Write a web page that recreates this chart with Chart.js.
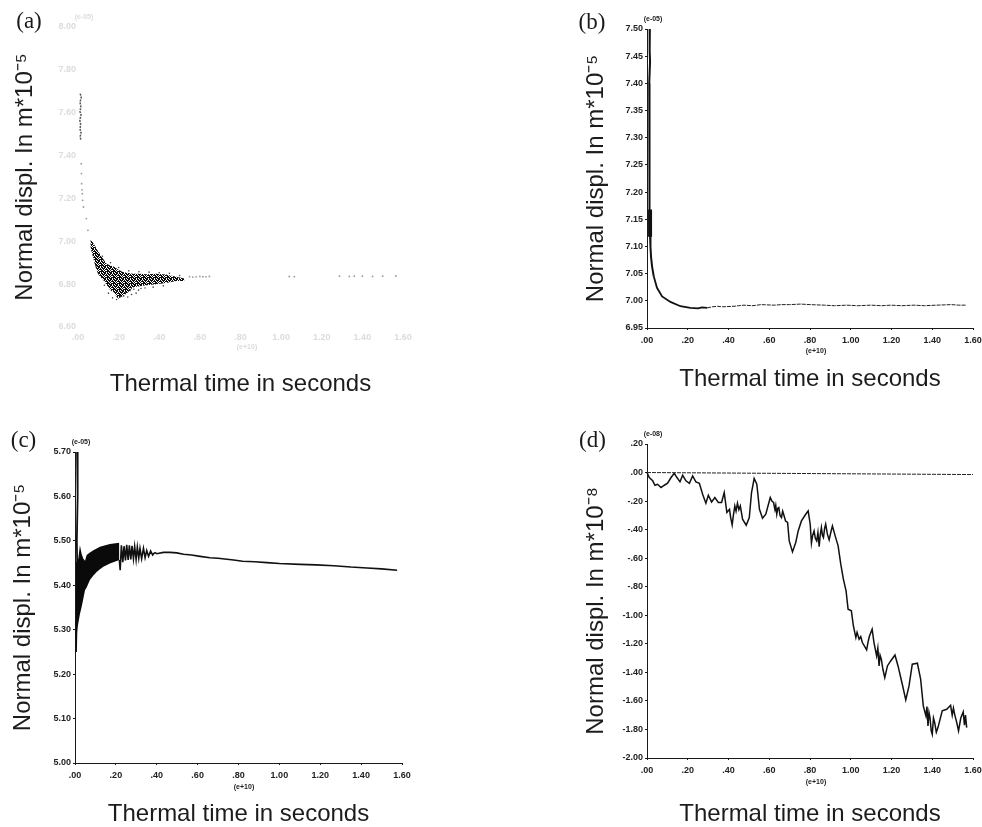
<!DOCTYPE html>
<html><head><meta charset="utf-8">
<style>html,body{margin:0;padding:0;background:#fff;overflow:hidden;width:982px;height:827px}canvas{position:absolute;filter:blur(.3px)}</style>
<script src="https://cdn.jsdelivr.net/npm/chart.js@4"></script>
</head><body>
<canvas id="a"></canvas><canvas id="b"></canvas><canvas id="c"></canvas><canvas id="d"></canvas>
<script>
// x in units of 1e8 s (axis label 1.60 e+10 = 160)
const aBandX=[6.1,8.2,9.8,12.3,13.9,15.6,18,19.7,22.1,24,27,30.3,33.6,38.5,43.4,48.4,52.4];
const aBandHi=[7.012,6.981,6.955,6.920,6.896,6.888,6.880,6.868,6.857,6.853,6.849,6.848,6.846,6.848,6.845,6.835,6.826];
const aBandLo=[6.973,6.896,6.849,6.820,6.800,6.775,6.755,6.732,6.745,6.756,6.784,6.790,6.795,6.799,6.805,6.815,6.815];
const aStripX=[1.1,1.6,1.0,1.4,1.0,1.5,0.9,1.3,1.0,1.5,1.1,1.4];
const aStripY=[7.689,7.670,7.650,7.628,7.605,7.590,7.565,7.545,7.525,7.505,7.490,7.471];
const aFaintX=[1.6,1.7,1.8,2.0,2.1,2.3,2.7,4.1,4.9,54.9,56.5,58.2,60,61.5,63,64.7,104,106.5,128.7,133.6,136,140,145,150,156.5];
const aFaintY=[7.362,7.316,7.269,7.240,7.222,7.191,7.160,7.106,7.051,6.835,6.833,6.834,6.836,6.835,6.834,6.836,6.836,6.835,6.837,6.836,6.837,6.837,6.836,6.837,6.838];
const aSpeckX=[22.5,23.5,24.5,25.6,26.4,27.5,28.6,29.8,31,21,19,17,15,13,11,9,12,16,20,25,30,35,40,45,50,33,37,42];
const aSpeckY=[6.745,6.762,6.740,6.770,6.752,6.776,6.758,6.772,6.780,6.742,6.728,6.736,6.758,6.795,6.840,6.880,6.930,6.900,6.878,6.862,6.858,6.856,6.853,6.851,6.840,6.782,6.786,6.792];
const bSpikeX=[1.4,1.3,1.5,1.1,1.4,1.1,1.3,1.1,1.3,1.2,1.5,1.7,2.0,2.5,3.3];
const bSpikeY=[7.50,7.46,7.44,7.40,7.36,7.32,7.28,7.24,7.20,7.17,7.12,7.10,7.08,7.063,7.045];
const bBlockX=[1.5,1.5];
const bBlockY=[7.168,7.118];
const bCurveX=[3.3,4.9,7.4,11.5,16.4,21.3,25,27,29.5];
const bCurveY=[7.045,7.024,7.008,6.998,6.990,6.987,6.986,6.988,6.987];
const bTailX=[29.5,32,34.5,37,42.7,45,47.6,52,56,62.4,66,70,75.5,80,87,92,98,103.4,110,115,119.8,125,131,136.2,142,149.3,153,156.7];
const bTailY=[6.987,6.989,6.990,6.989,6.990,6.991,6.992,6.991,6.993,6.992,6.993,6.993,6.994,6.993,6.992,6.991,6.992,6.991,6.992,6.991,6.992,6.991,6.992,6.991,6.992,6.993,6.992,6.992];
const cSpikeX=[1.0,1.3,0.9,1.2,0.7,0.5];
const cSpikeY=[5.70,5.60,5.50,5.40,5.30,5.25];
const cBandX=[0.5,1.1,1.6,2.4,3.3,4.1,4.9,5.7,7.3,9,10.6,12.2,13.9,17.1,21.7];
const cBandHi=[5.45,5.457,5.46,5.49,5.47,5.46,5.455,5.468,5.474,5.479,5.483,5.487,5.489,5.493,5.496];
const cBandLo=[5.254,5.30,5.314,5.335,5.352,5.37,5.389,5.395,5.412,5.422,5.430,5.436,5.442,5.449,5.457];
const cCombX=[21.7,22.1,22.7,23.4,24,24.7,25.3,26,26.6,27.3,27.9,28.6,29.2,29.9,30.5,31.2,31.8,32.6,33.5,34.3,35.1,36,37,38,39];
const cCombY=[5.457,5.434,5.490,5.452,5.488,5.456,5.491,5.457,5.490,5.458,5.489,5.460,5.487,5.458,5.486,5.461,5.483,5.460,5.483,5.462,5.478,5.465,5.477,5.468,5.474];
const cTailX=[39,40,43.3,46.5,49.8,53.1,57,61.2,66,70,77.6,82,88,93.9,100,110.2,118,126.6,135,142.9,150,157.6];
const cTailY=[5.474,5.471,5.474,5.474,5.473,5.470,5.468,5.465,5.462,5.461,5.457,5.454,5.453,5.451,5.449,5.447,5.446,5.444,5.441,5.439,5.437,5.434];
const dX=[0,1.1,2.8,3.9,5.2,6.9,8.5,10.1,11.8,13.4,14.7,16.2,17.5,19.1,20.8,22.4,24,25.7,27.3,28.9,30.1,31.7,33.3,35,36.6,37.9,39.2,
 40.5,41,41.8,42.4,43.1,43.7,44.4,45.1,45.8,46.9,48.7,50.2,51.3,52.6,53.9,55.2,56.7,58.3,
 60.5,61.3,62.1,62.8,63.2,63.7,64.2,64.7,65.3,66,66.6,67.3,68,69,69.8,71.4,73,74.2,75.8,77.9,79.1,80.1,
 80.7,81.3,82,82.6,83.3,83.9,84.5,85,85.6,86.1,86.6,87.2,87.7,88.5,89.4,90.2,91,92.6,93.8,95.1,96.4,97.7,98.7,100.3,101.3,
 102.5,103.1,104.1,104.9,105.7,107.8,108.6,109.2,110.5,111.4,112.7,113.3,113.9,114.4,115,115.8,116.7,118,119.6,121.7,123.2,125.3,127,128.6,130.2,132.7,134.3,135.6,
 136.9,137.4,137.9,138.4,138.9,139.5,140,140.6,141.2,142,142.8,144.9,147.1,
 149,149.8,150.4,151,152,152.9,154,155.2,155.8,156.3,156.9];
const dY=[0,-3.5,-5.8,-8.9,-8.2,-10.5,-8.9,-7.5,-3.5,-0.5,-3.5,-6.5,-1.9,-5.8,-7.5,-2.3,-6.5,-7.5,-15.2,-21.5,-15.9,-20.6,-17.5,-21,-21,-14,-28,
 -25.7,-31,-36.7,-30,-23.4,-27,-21.5,-26,-23.4,-32.7,-36.9,-31.5,-14,-4.2,-8.2,-25.7,-32,-29.2,
 -17.5,-20,-21,-26,-23,-29.2,-25,-24.5,-30,-31.5,-27,-30.4,-34,-35,-47.9,-55.6,-49,-40.9,-33.9,-29.2,-26.9,-36.2,
 -49.5,-44,-40.9,-46,-47.9,-42,-51.9,-44,-38.5,-44,-45.6,-39,-36.2,-43,-47.2,-42,-37.4,-45.6,-51.4,-64.2,-74.8,-82.9,-95.8,-96.9,-107.5,
 -115.6,-112,-116.8,-115,-119.1,-124.3,-118,-114.5,-109.8,-119.1,-128.5,-123,-135.5,-128,-130.8,-138,-143.7,-135.5,-132,-127.8,-135.5,-148.3,-159.3,-149.5,-134.3,-133.6,-144.8,-163.5,
 -170.5,-164,-177.5,-168,-171.7,-181,-183.4,-172,-175.2,-182,-178.7,-167,-165.9,
 -163.1,-170,-165,-169.4,-175,-181,-172,-167.7,-177,-170,-178.7];
const dZeroX=[0,160];
const dZeroY=[0,-1.4];
const xTickMax=160;

const xTitle='Thermal time in seconds';
const FONT='"Liberation Sans", Arial, sans-serif';
const pts=(xs,ys)=>xs.map((x,i)=>({x,y:ys[i]}));
const dec2=v=>v.toFixed(2);
const xFmt=v=>{const s=(v/100).toFixed(2);return s.startsWith('0')?s.slice(1):s;};
const dFmt=v=>{const a=Math.abs(v)/100;let s=a.toFixed(2);if(s.startsWith('0'))s=s.slice(1);return (v<0?'-':'')+s;};

const notes={id:'notes',afterDraw(ch,_,o){const c=ch.ctx,A=ch.chartArea;c.save();
 c.textAlign='center';c.textBaseline='middle';
 for(const n of o.items){c.font=n.font;c.fillStyle=n.color;
  const y=n.from==='bottom'?A.bottom+n.dy:A.top+n.dy;
  c.fillText(n.text,A.left+n.dx,y);}
 c.restore();}};

function panel(id,g,s){
 const el=document.getElementById(id),left=g.l-72,top=g.t-27,right=g.cr,bottom=g.b+g.xh;
 el.width=right-left;el.height=bottom-top;el.style.left=left+'px';el.style.top=top+'px';
 const axisCol=s.faint?'rgba(0,0,0,0)':'#1a1a1a',tickCol=s.faint?'#dcdcdc':'#222';
 const tickFont={family:FONT,size:9,weight:'bold'};
 new Chart(el,{type:'scatter',plugins:[notes],data:{datasets:s.datasets},options:{
  responsive:false,animation:false,
  layout:{padding:{top:27,right:right-g.r,left:0,bottom:0}},
  plugins:{legend:{display:false},tooltip:{enabled:false},notes:{items:[
    {text:s.tag,font:'23px "Liberation Serif", serif',color:'#1a1a1a',dx:g.tx,dy:g.ty},
    {text:s.expY,font:'bold 7px '+FONT,color:tickCol,dx:6,dy:-10},
    {text:'(e+10)',font:'bold 7px '+FONT,color:tickCol,dx:169,dy:g.ex,from:'bottom'}]}},
  scales:{
   x:{type:'linear',min:0,max:xTickMax,
    border:{display:!s.faint,color:axisCol,width:1},
    grid:{drawOnChartArea:false,drawTicks:!s.faint,tickLength:2,tickColor:axisCol},
    ticks:{stepSize:20,maxRotation:0,autoSkip:false,padding:5,color:tickCol,font:tickFont,callback:xFmt},
    title:{display:true,text:xTitle,color:'#1c1c1c',font:{family:FONT,size:24},padding:0},
    afterFit(sc){sc.height=g.xh;sc.paddingLeft=0;sc.paddingRight=0;}},
   y:{type:'linear',min:s.min,max:s.max,
    border:{display:!s.faint,color:axisCol,width:1},
    grid:{drawOnChartArea:false,drawTicks:!s.faint,tickLength:2,tickColor:axisCol},
    ticks:{stepSize:s.step,autoSkip:false,padding:2,color:tickCol,font:tickFont,callback:s.fmt||dec2},
    title:{display:true,text:s.yTitle,color:'#1c1c1c',font:{family:FONT,size:24},padding:{top:g.yp,bottom:0}},
    afterFit(sc){sc.width=72;sc.paddingTop=0;sc.paddingBottom=0;}}
  }}});
}
// speckled fill for the faded band of panel (a): a small fixed tile
const speckleTile=[
 '#.#..#',
 '##.###',
 '.###.#',
 '#.##.#',
 '###.#.',
 '.#.###'];
function specklePattern(){
 const c=document.createElement('canvas');c.width=c.height=6;const x=c.getContext('2d');x.fillStyle='#0c0c0c';
 speckleTile.forEach((row,j)=>[...row].forEach((ch,i)=>{if(ch==='#')x.fillRect(i,j,1,1);}));
 return x.createPattern(c,'repeat');
}
const line=(data,col,w,dash)=>({data,showLine:true,borderColor:col,borderWidth:w,borderDash:dash||[],pointRadius:0,tension:0,fill:false,clip:false});
const dots=(data,col,r)=>({data,showLine:false,pointRadius:r,pointBackgroundColor:col,pointBorderWidth:0});
const edge=data=>({data,showLine:true,borderColor:'rgba(0,0,0,0)',borderWidth:0,pointRadius:0,tension:0,fill:false});
const band=(data,fillCol)=>({data,showLine:true,borderColor:'rgba(0,0,0,0)',borderWidth:0,pointRadius:0,tension:0,fill:'-1',backgroundColor:fillCol});

panel('a',{l:78,r:403,t:27,b:327,cr:430,xh:72,yp:4.6,tx:-49,ty:-5,ex:20},{faint:true,tag:'(a)',expY:'(e-05)',min:6.6,max:8.0,step:0.2,
 yTitle:'Normal displ. In m*10\u207B\u2075',
 datasets:[edge(pts(aBandX,aBandHi)),band(pts(aBandX,aBandLo),specklePattern()),
  line(pts(aStripX,aStripY),'#555',1.5,[2,1]),dots(pts(aFaintX,aFaintY),'#999',0.9),dots(pts(aSpeckX,aSpeckY),'#444',0.8)]});
panel('b',{l:647,r:973,t:29,b:328,cr:982,xh:66,yp:6.6,tx:-55,ty:-6,ex:23},{tag:'(b)',expY:'(e-05)',min:6.95,max:7.5,step:0.05,
 yTitle:'Normal displ. In m*10\u207B\u2075',
 datasets:[line(pts(bSpikeX,bSpikeY),'#111',2),line(pts(bBlockX,bBlockY),'#111',4),line(pts(bCurveX,bCurveY),'#111',1.8),line(pts(bTailX,bTailY),'#222',1,[4,1])]});
panel('c',{l:75,r:402,t:452,b:763,cr:430,xh:66,yp:5.6,tx:-51.5,ty:-11,ex:24},{tag:'(c)',expY:'(e-05)',min:5.0,max:5.7,step:0.1,
 yTitle:'Normal displ. In m*10\u207B\u2075',
 datasets:[edge(pts(cBandX,cBandHi)),band(pts(cBandX,cBandLo),'#0a0a0a'),
  line(pts(cSpikeX,cSpikeY),'#111',1.8),line(pts(cCombX,cCombY),'#111',1.6),line(pts(cTailX,cTailY),'#111',1.6)]});
panel('d',{l:647,r:973,t:444,b:758,cr:982,xh:71,yp:6.6,tx:-54.5,ty:-3,ex:24},{tag:'(d)',expY:'(e-08)',min:-200,max:20,step:20,fmt:dFmt,
 yTitle:'Normal displ. In m*10\u207B\u2078\u00A0\u00A0\u00A0',
 datasets:[line(pts(dZeroX,dZeroY),'#222',1,[4,1]),line(pts(dX,dY),'#111',1.5)]});
</script>
</body></html>
